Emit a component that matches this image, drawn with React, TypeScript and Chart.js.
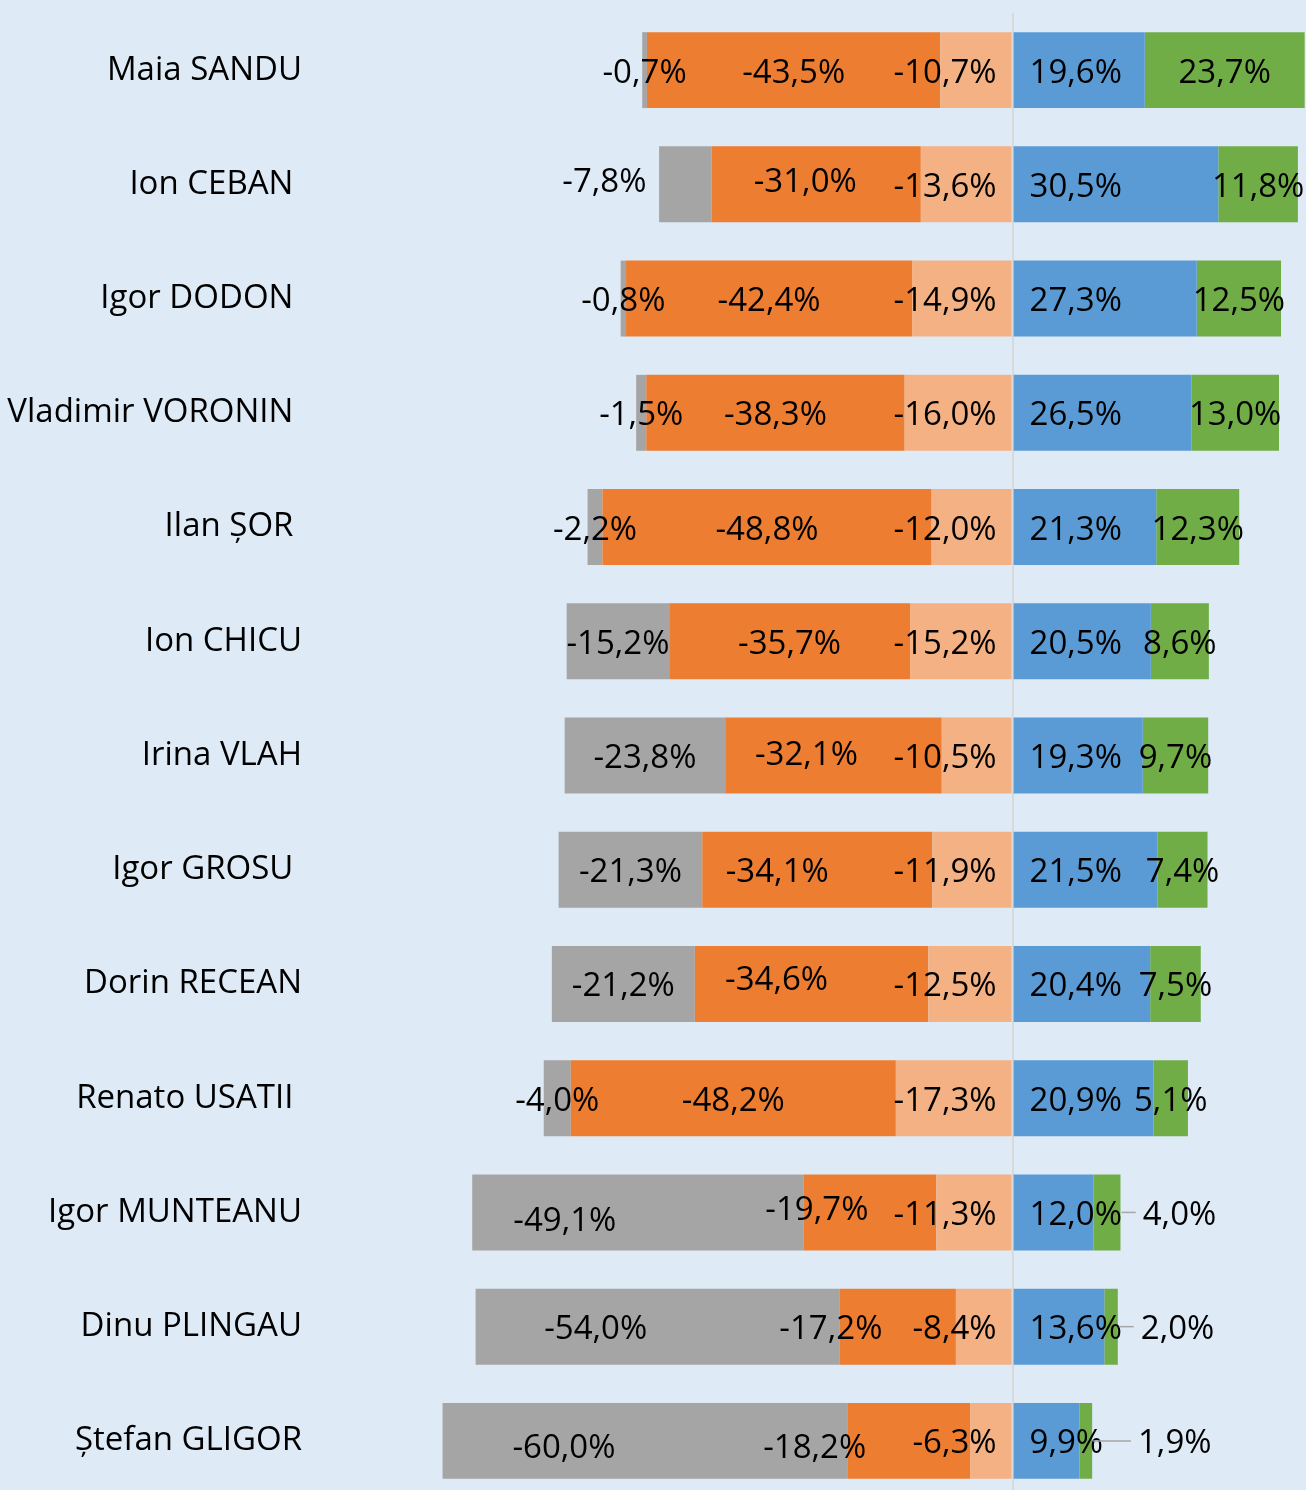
import React, { useEffect, useRef } from 'react';
import { Chart, registerables } from 'chart.js';

Chart.register(...registerables);

// Categories (trailing spaces kept as in the original labels)
const candidates = [
  'Maia SANDU',
  'Ion CEBAN ',
  'Igor DODON ',
  'Vladimir VORONIN ',
  'Ilan ȘOR ',
  'Ion CHICU',
  'Irina VLAH',
  'Igor GROSU ',
  'Dorin RECEAN',
  'Renato USATII ',
  'Igor MUNTEANU',
  'Dinu PLINGAU',
  'Ștefan GLIGOR',
];

// Series values (%)
const grayValues = [-0.7, -7.8, -0.8, -1.5, -2.2, -15.2, -23.8, -21.3, -21.2, -4.0, -49.1, -54.0, -60.0];
const orangeValues = [-43.5, -31.0, -42.4, -38.3, -48.8, -35.7, -32.1, -34.1, -34.6, -48.2, -19.7, -17.2, -18.2];
const lightOrangeValues = [-10.7, -13.6, -14.9, -16.0, -12.0, -15.2, -10.5, -11.9, -12.5, -17.3, -11.3, -8.4, -6.3];
const blueValues = [19.6, 30.5, 27.3, 26.5, 21.3, 20.5, 19.3, 21.5, 20.4, 20.9, 12.0, 13.6, 9.9];
const greenValues = [23.7, 11.8, 12.5, 13.0, 12.3, 8.6, 9.7, 7.4, 7.5, 5.1, 4.0, 2.0, 1.9];

// Axis range
const X_MIN = -100;
const X_MAX = 43.5;

// Styling
const FONT_FAMILY = "'Open Sans', sans-serif";
const FONT_SIZE = 33;
const COLORS = {
  lightOrange: '#F4B183',
  orange: '#ED7D31',
  gray: '#A5A5A5',
  blue: '#5B9BD5',
  green: '#70AD47',
};
const BG = '#DEEBF7';

// Manual label adjustments (pixels) [dx, dy], keyed by series:index
const labelNudges: Record<string, [number, number]> = {
  'gray:1': [-81, -5],
  'gray:10': [-73, 6],
  'gray:11': [-62, 0],
  'gray:12': [-81, 4.5],
  'orange:1': [-11, -5],
  'orange:6': [-27, -3],
  'orange:7': [-40, 0],
  'orange:8': [-35, -6],
  'orange:10': [-53, -5],
  'orange:11': [-67, 0],
  'orange:12': [-94, 4.5],
  'green:10': [72.5, 0],
  'green:11': [66.5, 0],
  'green:12': [89, 0],
};
const leaderLabels = new Set(['green:10', 'green:11', 'green:12']);

const seriesKeys = ['lightOrange', 'orange', 'gray', 'blue', 'green'];

function fmt(v: number): string {
  return v.toFixed(1).replace('.', ',') + '%';
}

const labelPlugin = {
  id: 'barLabels',
  afterDraw(chart: any) {
    const ctx = chart.ctx as CanvasRenderingContext2D;
    const zero = chart.scales.x.getPixelForValue(0);
    ctx.save();
    ctx.font = `${FONT_SIZE}px ${FONT_FAMILY}`;
    ctx.fillStyle = '#000000';
    ctx.textBaseline = 'alphabetic';
    chart.data.datasets.forEach((ds: any, di: number) => {
      const key = seriesKeys[di];
      const meta = chart.getDatasetMeta(di);
      meta.data.forEach((el: any, j: number) => {
        const v = ds.data[j] as number;
        const text = fmt(v);
        const p = el.getProps(['x', 'y', 'base'], true);
        let x: number;
        let align: CanvasTextAlign;
        if (key === 'lightOrange') {
          x = zero - 16;
          align = 'right';
        } else if (key === 'blue') {
          x = zero + 17;
          align = 'left';
        } else {
          x = (p.x + p.base) / 2;
          align = 'center';
        }
        const n = labelNudges[`${key}:${j}`] || [0, 0];
        x += n[0];
        const y = p.y + n[1];
        if (leaderLabels.has(`${key}:${j}`)) {
          const w = ctx.measureText(text).width;
          const left = x - w / 2;
          ctx.save();
          ctx.strokeStyle = '#A6A6A6';
          ctx.lineWidth = 1.5;
          ctx.beginPath();
          ctx.moveTo(Math.max(p.x, p.base) + 1, p.y);
          ctx.lineTo(left - 7, p.y);
          ctx.stroke();
          ctx.restore();
        }
        ctx.textAlign = align;
        ctx.fillText(text, x, y + 12.5);
      });
    });
    ctx.restore();
  },
};

export default function App() {
  const canvasRef = useRef<HTMLCanvasElement | null>(null);

  useEffect(() => {
    const canvas = canvasRef.current;
    if (!canvas) return;
    const valuesByKey: Record<string, number[]> = {
      lightOrange: lightOrangeValues,
      orange: orangeValues,
      gray: grayValues,
      blue: blueValues,
      green: greenValues,
    };
    const chart = new Chart(canvas, {
      type: 'bar',
      data: {
        labels: candidates,
        datasets: seriesKeys.map((k) => ({
          label: k,
          data: valuesByKey[k],
          backgroundColor: (COLORS as any)[k],
          borderWidth: 0,
          barPercentage: 0.665,
          categoryPercentage: 1,
        })),
      },
      options: {
        responsive: false,
        animation: false,
        devicePixelRatio: 1,
        events: [],
        indexAxis: 'y',
        layout: { padding: { top: 13, bottom: 1, left: 0, right: 0 } },
        plugins: {
          legend: { display: false },
          tooltip: { enabled: false },
        },
        scales: {
          x: {
            type: 'linear',
            stacked: true,
            min: X_MIN,
            max: X_MAX,
            z: 1,
            ticks: { display: false, stepSize: 10 },
            grid: {
              drawTicks: false,
              lineWidth: 2,
              color: (c: any) => (c.tick && c.tick.value === 0 ? '#D9D9D9' : 'rgba(0,0,0,0)'),
            },
            border: { display: false },
            afterFit: (s: any) => {
              s.height = 0;
              s.paddingLeft = 0;
              s.paddingRight = 0;
              s.paddingTop = 0;
              s.paddingBottom = 0;
            },
          },
          y: {
            type: 'category',
            stacked: true,
            offset: true,
            grid: { display: false, drawTicks: false },
            border: { display: false },
            ticks: {
              autoSkip: false,
              padding: 36,
              color: '#000000',
              font: { family: FONT_FAMILY, size: FONT_SIZE },
            },
            afterFit: (s: any) => {
              s.width = 338;
              s.paddingTop = 0;
              s.paddingBottom = 0;
              s.paddingLeft = 0;
              s.paddingRight = 0;
            },
          },
        },
      } as any,
      plugins: [labelPlugin],
    });
    return () => chart.destroy();
  }, []);

  return (
    <div
      style={{
        position: 'fixed',
        left: 0,
        top: 0,
        width: 1306,
        height: 1490,
        overflow: 'hidden',
        background: BG,
      }}
    >
      <canvas ref={canvasRef} width={1306} height={1499} style={{ width: 1306, height: 1499, display: 'block' }} />
    </div>
  );
}
